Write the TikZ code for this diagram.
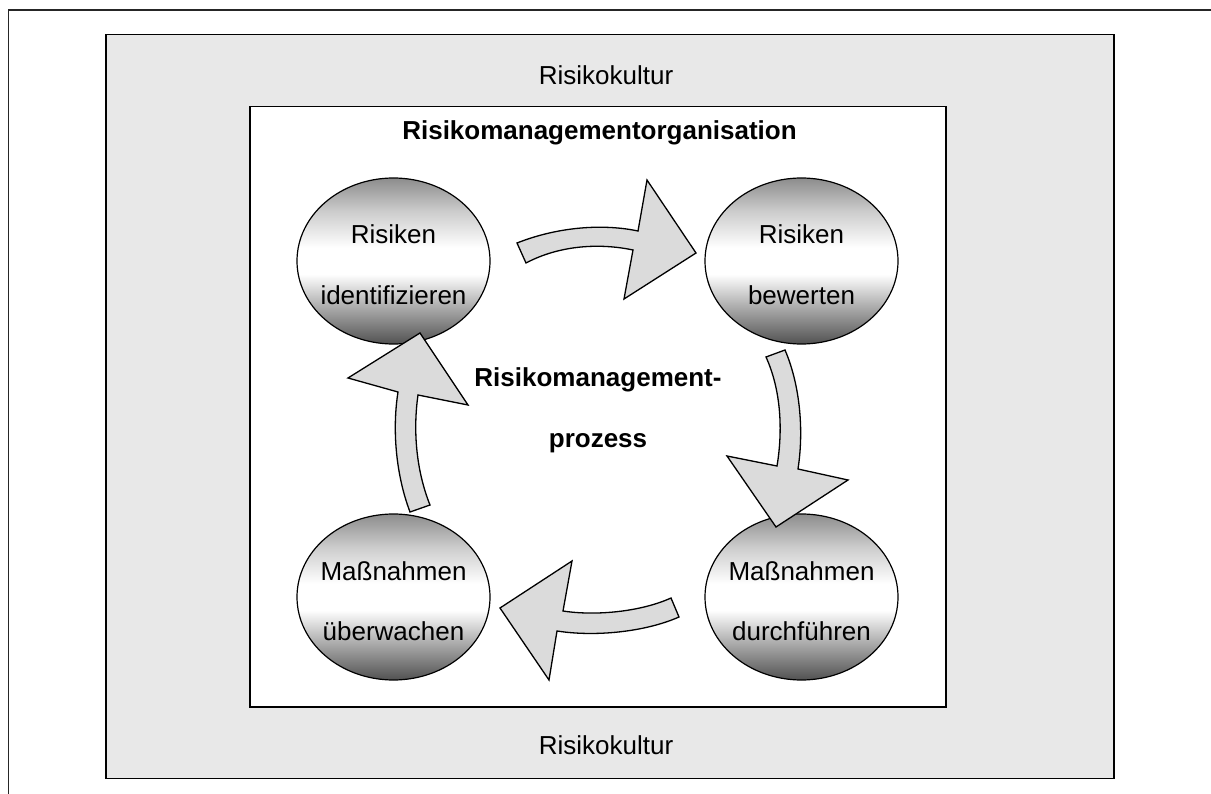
\documentclass[tikz,border=0pt]{standalone}
\usepackage{fontspec}
\setmainfont{Liberation Sans}
\usetikzlibrary{shapes.geometric,calc}

% grey-white-grey vertical shading for the process steps
% (the 25bp..75bp part spans the shape from bottom to top)
\pgfdeclareverticalshading{orbshade}{100bp}{%
  color(0bp)=(black!68); color(25bp)=(black!68);
  color(37bp)=(black!30); color(46bp)=(white); color(54bp)=(white);
  color(65bp)=(black!20); color(75bp)=(black!45); color(100bp)=(black!45)}

\begin{document}
\begin{tikzpicture}[x=1pt,y=-1pt,
  pageframe/.style={draw=black!85, line width=1.5pt},
  box/.style={draw=black, line width=1.6pt},
  blob/.style={ellipse, draw=black, line width=1.2pt,
    minimum width=193pt, minimum height=166pt, inner sep=0pt,
    shading=orbshade},
  word/.style={font=\fontsize{26}{31}\selectfont, anchor=base, inner sep=0pt},
  boldword/.style={word, font=\fontsize{26}{31}\selectfont\bfseries},
  bigarrow/.style={draw=black, line width=1.3pt, fill=black!14, line join=miter}
]
\useasboundingbox (0,0) rectangle (1211,794);

% page frame (open to the right and bottom)
\draw[pageframe] (8.7,794) -- (8.7,9.8) -- (1211,9.8);

% risk culture and organisation boxes
\draw[box, fill=black!9] (106,34.7) rectangle (1114,778.5);
\draw[box, fill=white] (250,106.7) rectangle (946,707);

\node[word] (kultTop) at (606,85) {Risikokultur};
\node[word] (kultBot) at (606,754.5) {Risikokultur};
\node[boldword] (org) at (599.5,140) {Risikomanagementorganisation};

% process steps
\node[blob] (ident) at (393.5,261) {};
\node[blob] (bew)   at (801.5,261) {};
\node[blob] (durch) at (801.5,597) {};
\node[blob] (ueber) at (393.5,597) {};

\node[word] (identA) at ([yshift=17pt]ident.center) {Risiken};
\node[word] (identB) at ([yshift=-44pt]ident.center) {identifizieren};
\node[word] (bewA)   at ([yshift=17pt]bew.center) {Risiken};
\node[word] (bewB)   at ([yshift=-44pt]bew.center) {bewerten};
\node[word] (durchA) at ([yshift=17pt]durch.center) {Maßnahmen};
\node[word] (durchB) at ([yshift=-43pt]durch.center) {durchführen};
\node[word] (ueberA) at ([yshift=17pt]ueber.center) {Maßnahmen};
\node[word] (ueberB) at ([yshift=-43pt]ueber.center) {überwachen};

\node[boldword] (procA) at (598,387) {Risikomanagement-};
\node[boldword] (procB) at (598,447) {prozess};

% curved block arrows of the cycle
\draw[bigarrow] (517,243) .. controls (560,226) and (605,224) .. (638,231) -- (647,180)
  -- (696,253) -- (624,299) -- (633,250) .. controls (600,243) and (560,245) .. (526,263) -- cycle;
\draw[bigarrow] (766,357) .. controls (781,390) and (783,430) .. (777,466) -- (727,456)
  -- (776,527) -- (848,480) -- (798,469) .. controls (804,430) and (800,385) .. (785,350) -- cycle;
\draw[bigarrow] (671,598) .. controls (640,612) and (595,616) .. (563,611) -- (572,561)
  -- (500,608) -- (549,680) -- (557,631) .. controls (595,637) and (645,632) .. (679,617) -- cycle;
\draw[bigarrow] (430,505) .. controls (416,470) and (413,430) .. (418,395) -- (468,405)
  -- (420,333) -- (348,378) -- (398,392) .. controls (392,430) and (396,475) .. (410,512) -- cycle;
\end{tikzpicture}
\end{document}
